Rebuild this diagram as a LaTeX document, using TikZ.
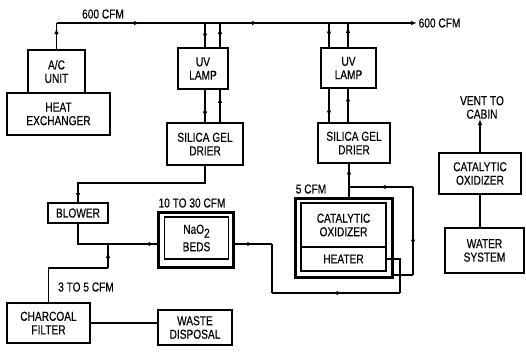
\documentclass[tikz,border=0pt]{standalone}
\usepackage{fontspec}
\setmainfont{Liberation Sans}[FakeStretch=0.78,FakeBold=0.3]
\usetikzlibrary{arrows.meta,decorations.markings,calc}
\tikzset{
  txt/.style={font=\fontsize{13}{13.5}\selectfont, align=center, inner sep=0pt},
  box/.style 2 args={txt, draw, line width=1.3pt, minimum width=#1, minimum height=#2},
  heavy/.style={line width=3pt},
  ln/.style={line width=1.3pt},
  tipat/.style={postaction={decorate}, decoration={markings, mark=at position #1 with {\arrow{Latex[length=6pt,width=4.5pt]}}}},
  tiprev/.style={postaction={decorate}, decoration={markings, mark=at position #1 with {\arrowreversed{Latex[length=6pt,width=4.5pt]}}}},
  endtip/.style={-{Latex[length=6pt,width=4.5pt]}}
}
\begin{document}
\begin{tikzpicture}[x=1pt,y=-1pt]
\useasboundingbox (0,0) rectangle (526,351);

% boxes
\node[box={57}{43}] (ac) at (56.5,71.5) {A/C\\UNIT};
\node[box={103}{42}] (hx) at (58.5,114) {HEAT\\EXCHANGER};
\node[box={50}{41}] (uv1) at (203,68.5) {UV\\LAMP};
\node[box={76}{42}] (sg1) at (205,144) {SILICA GEL\\DRIER};
\node[box={55}{40}] (uv2) at (348.5,68) {UV\\LAMP};
\node[box={72}{40}] (sg2) at (354,143) {SILICA GEL\\DRIER};
\node[box={60}{20}] (blower) at (78,213) {BLOWER};
\node[box={75}{55}, heavy] (nao) at (195.5,239.5) {};
\node[box={64}{42}] (naoin) at (196.5,238) {NaO\raisebox{-4pt}{2}\\[4pt]BEDS};
\node[box={83}{40}] (cf) at (48.5,323) {CHARCOAL\\FILTER};
\node[box={74}{35}, line width=2.8pt] (wd) at (195,327.5) {WASTE\\DISPOSAL};
\node[box={97}{79}, heavy] (co2) at (343.5,237.5) {};
\node[box={85}{44}] (coin) at (343.5,225) {CATALYTIC\\OXIDIZER};
\node[box={85}{24}] (heater) at (343.5,259) {HEATER};
\node[box={82}{41}] (co3) at (480,173.5) {CATALYTIC\\OXIDIZER};
\node[box={79}{45}] (ws) at (484.5,250.5) {WATER\\SYSTEM};

% labels
\node[txt] (l600a) at (103,14) {600 CFM};
\coordinate (topL) at (56.5,23);
\coordinate (topR) at (417,23);
\node[txt, anchor=west] (l600b) at ($(topR)+(1.5,0)$) {600 CFM};
\node[txt] (l35) at (86,287) {3 TO 5 CFM};
\node[txt] (l1030) at (192,203) {10 TO 30 CFM};
\node[txt] (l5) at (311,189) {5 CFM};
\node[txt, anchor=south] (vent) at (482,119) {VENT TO\\CABIN};

% main duct
\draw[ln, tipat=0.81] (ac.north) -- (topL);
\draw[ln, endtip, postaction={decorate}, decoration={markings,
   mark=at position 0.232 with {\arrow{Latex[length=6pt,width=4.5pt]}},
   mark=at position 0.559 with {\arrow{Latex[length=6pt,width=4.5pt]}}}]
   (topL) -- (topR);

% UV lamp / drier 1
\coordinate (a1) at (205,23);
\coordinate (b1) at (220,23);
\draw[ln, tipat=0.68] (a1) -- (a1 |- uv1.north);
\draw[ln, tipat=0.8] (b1 |- uv1.north) -- (b1);
\draw[ln, tipat=0.85] (a1 |- uv1.south) -- (a1 |- sg1.north);
\draw[ln, tipat=0.78] (b1 |- sg1.north) -- (b1 |- uv1.south);

% UV lamp / drier 2
\coordinate (a2) at (329,23);
\coordinate (b2) at (348,23);
\draw[ln, tipat=0.6] (a2) -- (a2 |- uv2.north);
\draw[ln, tipat=0.84] (b2 |- uv2.north) -- (b2);
\draw[ln, tipat=0.83] (a2 |- uv2.south) -- (a2 |- sg2.north);
\draw[ln, tipat=0.8] (b2 |- sg2.north) -- (b2 |- uv2.south);

% drier 1 to blower
\coordinate (d1) at (205,183);
\draw[ln, tipat=0.98] (sg1.south) -- (d1) -| (blower.north);

% blower to NaO2 beds
\coordinate (j1) at (108,244);
\coordinate (j2) at (108,268);
\draw[ln, tipat=0.98] (blower.south) |- (nao.west |- j1);
\draw[ln] (cf.north) |- (j2);
\draw[ln, tipat=0.67] (j2) -- (j1);
\draw[ln] (cf.east) -- (cf.east -| wd.west);

% NaO2 beds to heater
\coordinate (k1) at (272,293);
\coordinate (k2) at (400,293);
\draw[ln, tipat=0.5] (nao.east |- j1) -- (k1 |- j1);
\draw[ln] (k1 |- j1) -- (k1);
\draw[ln, tiprev=0.47] (k1) -- (k2);
\draw[ln] (k2) -- (k2 |- heater.east) -- (heater.east);

% recirculation loop
\coordinate (m1) at (413,275);
\coordinate (m2) at (413,187);
\coordinate (m3) at (349,187);
\draw[ln] (co2.east |- m1) -- (m1);
\draw[ln, tipat=0.45] (m1) -- (m2);
\draw[ln, tipat=0.52] (m2) -- (m3);
\draw[ln, tipat=0.86] (m3 |- co2.north) -- (m3 |- sg2.south);

% right column
\draw[ln, endtip] (co3.north) -- (co3.north |- vent.south);
\draw[ln] (co3.south) -- (co3.south |- ws.north);
\end{tikzpicture}
\end{document}
